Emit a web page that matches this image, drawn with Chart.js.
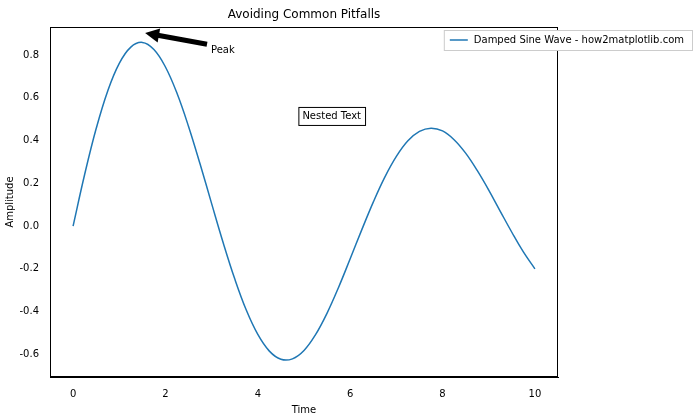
<!DOCTYPE html>
<html><head><meta charset="utf-8">
<script src="https://cdn.jsdelivr.net/npm/chart.js@4/dist/chart.umd.min.js"></script>
<style>html,body{margin:0;padding:0;background:#fff}#w{width:700px;height:420px}</style>
</head><body><div id="w"><canvas id="c"></canvas></div>
<script>
const timeValues=[0,0.25,0.5,0.75,1,1.25,1.5,1.75,2,2.25,2.5,2.75,3,3.25,3.5,3.75,4,4.25,4.5,4.75,5,5.25,5.5,5.75,6,6.25,6.5,6.75,7,7.25,7.5,7.75,8,8.25,8.5,8.75,9,9.25,9.5,9.75,10];
const amplitudeValues=[0,0.241,0.456,0.632,0.761,0.837,0.859,0.826,0.744,0.621,0.466,0.290,0.105,-0.078,-0.247,-0.393,-0.507,-0.585,-0.623,-0.621,-0.582,-0.508,-0.407,-0.286,-0.153,-0.018,0.112,0.229,0.326,0.399,0.443,0.458,0.445,0.404,0.341,0.260,0.168,0.069,-0.029,-0.121,-0.200];
const xTicks=[0,2,4,6,8,10];
const yTicks=[-0.6,-0.4,-0.2,0.0,0.2,0.4,0.6,0.8];
const seriesLabel='Damped Sine Wave - how2matplotlib.com';
const titleText='Avoiding Common Pitfalls';
const FONT='DejaVu Sans';
const extras={id:'extras',afterDraw(ch){
 const c=ch.ctx,x=ch.scales.x,y=ch.scales.y,a=ch.chartArea;
 c.save();
 c.strokeStyle='#000';c.lineWidth=1;c.strokeRect(a.left+0.5,a.top+0.5,a.right-a.left-1,a.bottom-a.top-1);
 c.fillStyle='#000';c.font='12px '+FONT;c.textAlign='center';c.textBaseline='middle';
 c.fillText(titleText,(a.left+a.right)/2,15);
 const x0=x.getPixelForValue(2.9),y0=y.getPixelForValue(0.85),x1=x.getPixelForValue(1.56),y1=y.getPixelForValue(0.903);
 const ang=Math.atan2(y1-y0,x1-x0);
 c.lineWidth=5;c.beginPath();c.moveTo(x0,y0);c.lineTo(x1-10*Math.cos(ang),y1-10*Math.sin(ang));c.stroke();
 c.beginPath();c.moveTo(x1,y1);
 c.lineTo(x1-14*Math.cos(ang)+7*Math.sin(ang),y1-14*Math.sin(ang)-7*Math.cos(ang));
 c.lineTo(x1-14*Math.cos(ang)-7*Math.sin(ang),y1-14*Math.sin(ang)+7*Math.cos(ang));
 c.closePath();c.fill();
 c.font='10px '+FONT;c.textAlign='left';
 c.fillText('Peak',x0+4,y0+6);
 const nx=x.getPixelForValue(5.6),ny=y.getPixelForValue(0.515);
 c.textAlign='center';const tw=c.measureText('Nested Text').width;
 c.fillStyle='#fff';c.fillRect(nx-tw/2-4,ny-9,tw+8,18);
 c.strokeStyle='#000';c.lineWidth=1;c.strokeRect(nx-tw/2-4+0.5,ny-9+0.5,tw+8,18);
 c.fillStyle='#000';c.fillText('Nested Text',nx,ny);
 c.font='10px '+FONT;const lw=c.measureText(seriesLabel).width;
 const bw=lw+38,lx=692-bw,ly=30,bh=20;
 c.fillStyle='#fff';c.fillRect(lx,ly,bw,bh);
 c.strokeStyle='#ccc';c.strokeRect(lx+0.5,ly+0.5,bw,bh);
 c.strokeStyle='#1f77b4';c.lineWidth=1.5;c.beginPath();c.moveTo(lx+6,ly+10);c.lineTo(lx+24,ly+10);c.stroke();
 c.fillStyle='#000';c.textAlign='left';c.fillText(seriesLabel,lx+30,ly+10.5);
 c.restore();
}};
new Chart(document.getElementById('c'),{type:'line',
 data:{datasets:[{label:seriesLabel,data:timeValues.map((t,i)=>({x:t,y:amplitudeValues[i]})),borderColor:'#1f77b4',borderWidth:1.5,pointRadius:0,tension:0.4,fill:false}]},
 options:{responsive:true,maintainAspectRatio:false,animation:false,
  layout:{padding:{left:0,right:142,top:27,bottom:0}},
  plugins:{legend:{display:false},tooltip:{enabled:false}},
  scales:{
   x:{type:'linear',min:-0.5,max:10.5,grid:{display:false},border:{color:'#000'},
    afterBuildTicks:s=>{s.ticks=xTicks.map(v=>({value:v}))},
    afterFit:s=>{s.height=43},
    ticks:{color:'#000',font:{family:FONT,size:10},maxRotation:0,callback:v=>String(v)},
    title:{display:true,text:'Time',color:'#000',font:{family:FONT,size:10},padding:{top:2}}},
   y:{min:-0.706,max:0.931,grid:{display:false},border:{color:'#000'},
    afterBuildTicks:s=>{s.ticks=yTicks.map(v=>({value:v}))},
    afterFit:s=>{s.width=50},
    ticks:{color:'#000',font:{family:FONT,size:10},callback:v=>v.toFixed(1)},
    title:{display:true,text:'Amplitude',color:'#000',font:{family:FONT,size:10},padding:{bottom:2}}}
  }},
 plugins:[extras]});
</script></body></html>
